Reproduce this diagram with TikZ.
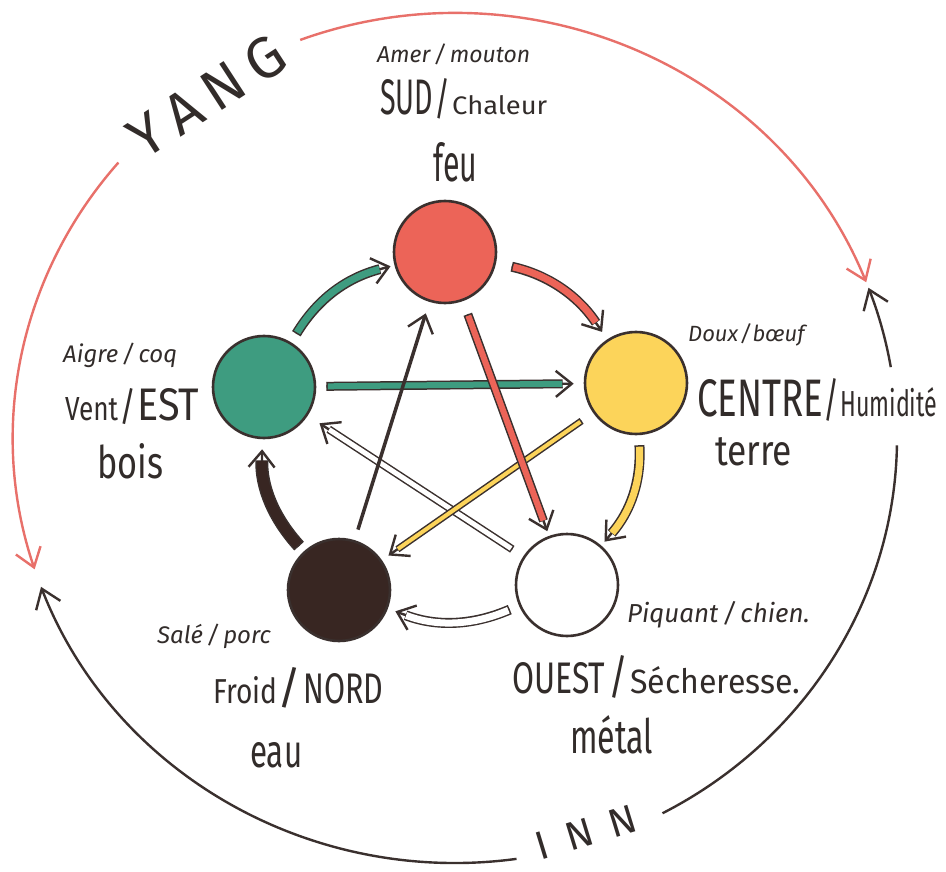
\documentclass[tikz,border=0pt]{standalone}
\usepackage{fontspec}
\usepackage{graphicx}
\setmainfont{Fira Sans}
\usetikzlibrary{arrows.meta,calc}
\definecolor{outl}{RGB}{58,48,46}
\definecolor{textc}{RGB}{50,44,42}
\definecolor{feuc}{RGB}{236,100,88}
\definecolor{boisc}{RGB}{62,156,128}
\definecolor{terrec}{RGB}{252,212,90}
\definecolor{eauc}{RGB}{56,38,34}
\definecolor{redarc}{RGB}{232,112,106}
\newcommand\fs[1]{\fontsize{#1}{#1}\selectfont}
\newcommand\fitw[3]{\resizebox{#1pt}{#2pt}{#3}}
\tikzset{
  elem/.style={circle, draw=outl, line width=2.6pt, minimum size=102pt, inner sep=0pt},
  txt/.style={text=textc, inner sep=0pt, anchor=base west},
  bandtip/.style={-{Straight Barb[length=16pt,width=26pt,line width=2.4pt]}},
  band/.style n args={4}{
    preaction={draw=outl, line width=2.4pt, shorten <=#3, shorten >=#4, bandtip},
    draw=outl, line width=#2, shorten <=#3, shorten >=#4+11pt,
    postaction={draw=#1, line width=#2-3pt, shorten <=#3+1.5pt, shorten >=#4+11.5pt}},
  outerline/.style={line width=2.4pt},
  outertip/.style={-{Straight Barb[length=18pt,width=26pt,line width=2.4pt]}}
}
\begin{document}
\begin{tikzpicture}[x=1pt,y=1pt]
\useasboundingbox (0,0) rectangle (946,-872);
\fill[white] (0,0) rectangle (946,-872);
\coordinate (C) at (455,-438);

% outer arcs
\draw[outerline, redarc, outertip] ($(C)+(139.6:442 and 425)$) arc[start angle=139.6, end angle=198, x radius=442, y radius=425];
\draw[outerline, redarc, outertip] ($(C)+(110.5:442 and 425)$) arc[start angle=110.5, end angle=21.5, x radius=442, y radius=425];
\draw[outerline, outl, outertip] ($(C)+(9.6:442 and 425)$) arc[start angle=9.6, end angle=20.7, x radius=442, y radius=425];
\draw[outerline, outl] ($(C)+(-1:442 and 425)$) arc[start angle=-1, end angle=-62, x radius=442, y radius=425];
\draw[outerline, outl, outertip] ($(C)+(-82:442 and 425)$) arc[start angle=-82, end angle=-159.5, x radius=442, y radius=425];

% elements
\node[elem, fill=feuc] (feu) at (445,-252) {};
\node[elem, fill=boisc] (bois) at (264,-387) {};
\node[elem, fill=terrec] (terre) at (636,-383) {};
\node[elem, fill=eauc] (eau) at (339,-590) {};
\node[elem, fill=white] (metal) at (567,-585) {};

% star (control) lines
\draw[band={boisc}{9pt}{10pt}{10pt}] (bois) -- (terre);
\draw[band={white}{8pt}{13pt}{14pt}] (metal) -- (bois);
\draw[band={terrec}{7pt}{14pt}{8pt}] (terre) -- (eau);
\draw[band={feuc}{9pt}{14pt}{5pt}] (feu) -- (metal);
\draw[outl, line width=3.5pt, shorten <=11pt, shorten >=12pt, bandtip] (eau) -- (feu);

% generating cycle
\draw[band={boisc}{10pt}{10pt}{4pt}] (bois) to[bend left=22] (feu);
\draw[band={feuc}{10pt}{16pt}{9pt}] (feu) to[bend left=22] (terre);
\draw[band={terrec}{10pt}{10pt}{5pt}] (terre) to[bend left=22] (metal);
\draw[band={white}{10pt}{10pt}{8pt}] (metal) to[bend left=22] (eau);
\draw[band={eauc}{13pt}{7pt}{10pt}] (eau) to[bend left=22] (bois);

% labels
\node[txt] (amer) at (377,-63) {\itshape\fs{23}Amer\,/\,mouton};
\node[txt] (sud) at (380,-115) {\fitw{53}{35}{SUD}\kern1pt\fitw{16}{36}{/}\kern2pt\fitw{95}{19}{Chaleur}};
\node[txt] (feul) at (433,-182) {\fitw{44}{39}{feu}};

\node[txt] (aigre) at (63,-362) {\itshape\fs{24}Aigre\,/\,coq};
\node[txt] (vent) at (65,-420) {\fitw{53}{23}{Vent}\kern1pt\fitw{17}{32}{/}\kern1pt\fitw{62}{32}{EST}};
\node[txt] (boisl) at (97,-478) {\fitw{66}{35}{bois}};

\node[txt] (doux) at (688,-341) {\itshape\fs{22}Doux\kern2pt/\kern1pt bœuf};
\node[txt] (centre) at (697,-416) {\fitw{126}{37}{CENTRE}\fitw{16}{38}{/}\kern1pt\fitw{97}{29}{Humidité}};
\node[txt] (terrel) at (715,-465) {\fitw{77}{28}{terre}};

\node[txt] (sale) at (157,-643) {\itshape\fs{24}Salé\,/\,porc};
\node[txt] (froid) at (213,-703) {\fitw{64}{27}{Froid}\fitw{24}{36}{/}\kern2pt\fitw{80}{30}{NORD}};
\node[txt] (eaul) at (250,-767) {\fitw{52}{25}{eau}};

\node[txt] (piquant) at (627,-622) {\itshape\fs{26}Piquant\,/\,chien.};
\node[txt] (ouest) at (512,-693) {\fitw{93}{31}{OUEST}\kern3pt\fitw{20}{38}{/}\kern2pt\fitw{170}{27}{Sécheresse.}};
\node[txt] (metall) at (570,-753) {\fitw{83}{38}{métal}};

\node[txt, rotate=33] (yang) at (144,-161) {\fs{58}Y\kern12pt A\kern10pt N\kern12pt G};
\node[txt, rotate=17] (inn) at (540,-861) {\fs{40}I\kern20pt N\kern18pt N};
\end{tikzpicture}
\end{document}
